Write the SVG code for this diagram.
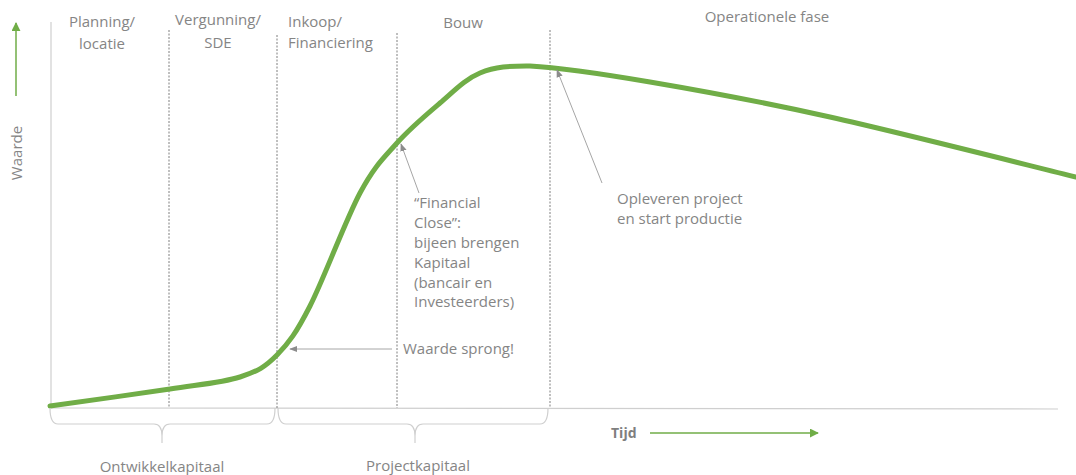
<svg xmlns="http://www.w3.org/2000/svg" width="1076" height="475" viewBox="0 0 1076 475">
<defs>
<style>
.t{font-family:"Open Sans","Liberation Sans",sans-serif;font-size:15px;fill:#858585}
.c{text-anchor:middle}
.dot{stroke:#7f7f7f;stroke-width:1;stroke-dasharray:2,1.5;fill:none}
.ax{stroke:#cfcfcf;stroke-width:1.2;fill:none}
.ann{stroke:#a6a6a6;stroke-width:1;fill:none}
.grn{stroke:#70ad47;stroke-width:1.5;fill:none}
</style>
<marker id="ga" viewBox="0 0 10 10" refX="9" refY="5" markerWidth="6" markerHeight="6" orient="auto"><path d="M0,0L10,5L0,10z" fill="#70ad47"/></marker>
<marker id="aa" viewBox="0 0 10 10" refX="9" refY="5" markerWidth="8" markerHeight="8" orient="auto"><path d="M0,1L10,5L0,9z" fill="#8c8c8c"/></marker>
</defs>
<rect width="1076" height="475" fill="#ffffff"/>
<g id="axes">
<line class="ax" x1="51" y1="22" x2="51" y2="408"/>
<line class="ax" x1="51" y1="408" x2="1058" y2="409"/>
<line class="grn" x1="16" y1="96" x2="16" y2="23" marker-end="url(#ga)"/>
<text class="t c" transform="translate(22,153) rotate(-90)">Waarde</text>
<line class="grn" x1="650" y1="433" x2="818" y2="433" marker-end="url(#ga)"/>
<text class="t" x="611" y="438" style="font-weight:bold;font-size:14px;fill:#7f7f7f">Tijd</text>
</g>
<g id="phases">
<line class="dot" x1="169" y1="30" x2="169" y2="408"/>
<line class="dot" x1="277" y1="35" x2="277" y2="408"/>
<line class="dot" x1="397" y1="33" x2="397" y2="408"/>
<line class="dot" x1="550" y1="30" x2="550" y2="408"/>
<text class="t c" x="102" y="27">Planning/</text>
<text class="t c" x="102" y="49">locatie</text>
<text class="t c" x="218" y="25">Vergunning/</text>
<text class="t c" x="218" y="48">SDE</text>
<text class="t" x="288" y="27">Inkoop/</text>
<text class="t" x="288" y="48">Financiering</text>
<text class="t c" x="463" y="28">Bouw</text>
<text class="t c" x="767" y="22">Operationele fase</text>
</g>
<g id="curve">
<path d="M50,406 C70,403.2 138.3,393.8 170,389 C201.7,384.2 222.2,382.7 240,377 C257.8,371.3 265.3,366.8 277,355 C288.7,343.2 296.2,333 310,306 C323.8,279 345.5,220.2 360,193 C374.5,165.8 383.7,158 397,143 C410.3,128 426.2,114.7 440,103 C453.8,91.3 465,79.2 480,73 C495,66.8 510,65.8 530,66 C558.3,67.5 600,73.5 650,82 C700,90.5 759,101.2 830,117 C901,132.8 1035,167 1076,177" fill="none" stroke="#70ad47" stroke-width="5" stroke-linecap="round"/>
</g>
<g id="connectors">
<line class="ann" x1="392" y1="349" x2="290" y2="349" marker-end="url(#aa)"/>
<line class="ann" x1="419" y1="193" x2="401" y2="144" marker-end="url(#aa)"/>
<line class="ann" x1="602" y1="183" x2="557" y2="70" marker-end="url(#aa)"/>
</g>
<g id="notes">
<text class="t" x="414" y="208">“Financial</text>
<text class="t" x="414" y="228">Close”:</text>
<text class="t" x="414" y="248">bijeen brengen</text>
<text class="t" x="414" y="268">Kapitaal</text>
<text class="t" x="414" y="288">(bancair en</text>
<text class="t" x="414" y="307">Investeerders)</text>
<text class="t" x="403" y="354">Waarde sprong!</text>
<text class="t" x="617" y="204">Opleveren project</text>
<text class="t" x="617" y="224">en start productie</text>
</g>
<g id="braces">
<path class="ax" d="M50,408 Q50,424 58,424 L154,424 Q162,424 162,436 L162,443 M162,436 Q162,424 170,424 L267,424 Q275,424 275,408"/>
<path class="ax" d="M278,408 Q278,424 286,424 L407,424 Q415,424 415,436 L415,443 M415,436 Q415,424 423,424 L540,424 Q548,424 548,408"/>
<text class="t c" x="162" y="472">Ontwikkelkapitaal</text>
<text class="t c" x="418" y="471">Projectkapitaal</text>
</g>
</svg>
